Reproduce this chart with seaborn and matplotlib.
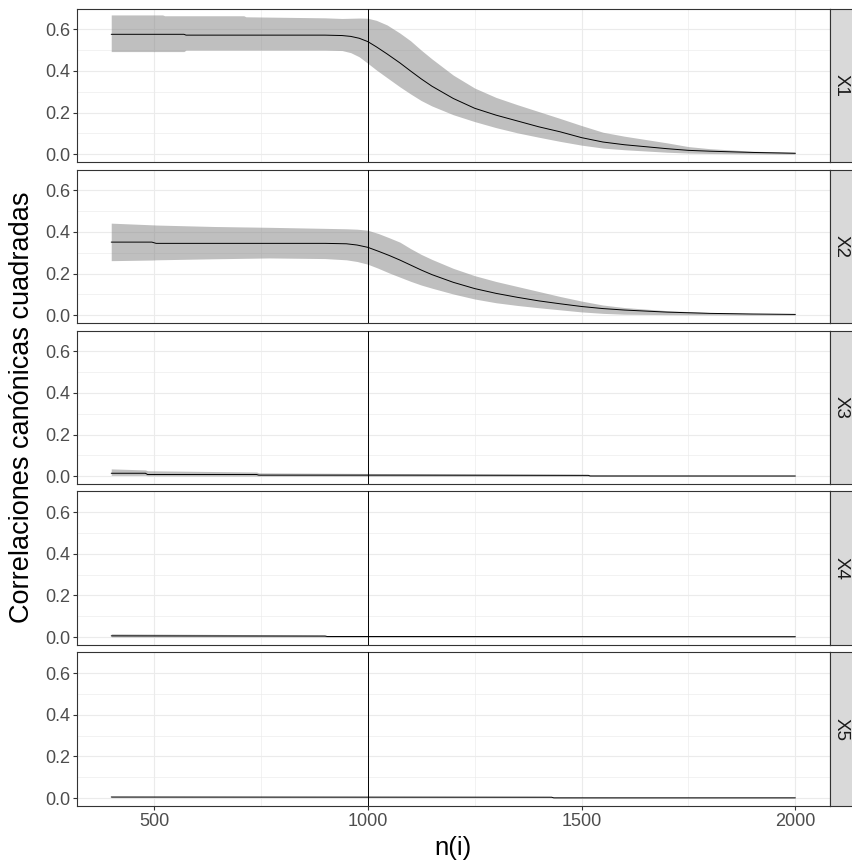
import pandas as pd
import matplotlib
matplotlib.use('Agg')
import matplotlib.pyplot as plt
from matplotlib import font_manager
from matplotlib.ticker import MultipleLocator
import seaborn as sns

# Facet labels
facets = ['X1', 'X2', 'X3', 'X4', 'X5']

# X1: n, mean, lower and upper band
n1 = [400, 520, 525, 570, 575, 710, 715, 900, 940, 960, 980, 1000, 1020, 1045, 1075, 1100,
      1125, 1150, 1200, 1250, 1300, 1350, 1400, 1450, 1500, 1550, 1600, 1700, 1750, 1800, 1900, 2000]
mean1 = [0.576, 0.576, 0.576, 0.576, 0.572, 0.572, 0.572, 0.572, 0.570, 0.566, 0.557, 0.541, 0.516,
         0.482, 0.439, 0.400, 0.362, 0.327, 0.268, 0.221, 0.188, 0.160, 0.132, 0.108, 0.080, 0.059,
         0.046, 0.027, 0.019, 0.015, 0.009, 0.005]
high1 = [0.669, 0.669, 0.665, 0.665, 0.665, 0.665, 0.660, 0.655, 0.652, 0.653, 0.654, 0.653, 0.643,
         0.621, 0.582, 0.545, 0.500, 0.458, 0.380, 0.318, 0.273, 0.238, 0.205, 0.172, 0.138, 0.106,
         0.087, 0.055, 0.037, 0.027, 0.015, 0.010]
low1 = [0.493, 0.493, 0.493, 0.493, 0.500, 0.500, 0.500, 0.500, 0.498, 0.488, 0.468, 0.437, 0.405,
        0.368, 0.324, 0.290, 0.258, 0.232, 0.190, 0.157, 0.128, 0.103, 0.082, 0.062, 0.044, 0.030,
        0.022, 0.010, 0.006, 0.004, 0.002, 0.001]

# X2
n2 = [400, 495, 505, 640, 770, 900, 950, 975, 1000, 1025, 1050, 1075, 1100, 1125, 1150, 1200,
      1250, 1300, 1350, 1400, 1450, 1500, 1550, 1600, 1700, 1800, 1900, 2000]
mean2 = [0.351, 0.351, 0.345, 0.345, 0.345, 0.345, 0.343, 0.337, 0.326, 0.307, 0.287, 0.265, 0.241,
         0.217, 0.195, 0.158, 0.128, 0.105, 0.086, 0.069, 0.055, 0.042, 0.032, 0.025, 0.015, 0.009,
         0.006, 0.004]
high2 = [0.442, 0.434, 0.433, 0.426, 0.422, 0.417, 0.415, 0.413, 0.408, 0.392, 0.372, 0.351, 0.320,
         0.292, 0.268, 0.225, 0.190, 0.162, 0.138, 0.114, 0.090, 0.068, 0.049, 0.037, 0.022, 0.013,
         0.008, 0.006]
low2 = [0.262, 0.265, 0.266, 0.271, 0.275, 0.272, 0.266, 0.258, 0.245, 0.225, 0.203, 0.183, 0.163,
        0.145, 0.130, 0.102, 0.078, 0.060, 0.047, 0.036, 0.026, 0.016, 0.009, 0.005, 0.003, 0.002,
        0.001, 0.001]

# X3
n3 = [400, 480, 485, 740, 745, 1100, 1516, 1520, 2000]
mean3 = [0.014, 0.014, 0.008, 0.008, 0.005, 0.005, 0.004, 0.001, 0.001]
high3 = [0.035, 0.030, 0.026, 0.020, 0.016, 0.012, 0.008, 0.005, 0.003]
low3 = [0.004, 0.004, 0.002, 0.001, 0.001, 0.000, 0.000, 0.000, 0.000]

# X4
n4 = [400, 900, 905, 2000]
mean4 = [0.006, 0.005, 0.003, 0.002]
high4 = [0.016, 0.010, 0.007, 0.004]
low4 = [0.001, 0.001, 0.000, 0.000]

# X5
n5 = [400, 1430, 1435, 2000]
mean5 = [0.005, 0.004, 0.001, 0.001]
high5 = [0.007, 0.006, 0.003, 0.002]
low5 = [0.002, 0.002, 0.000, 0.000]

cut_n = 1000

series = [(n1, mean1, low1, high1), (n2, mean2, low2, high2), (n3, mean3, low3, high3),
          (n4, mean4, low4, high4), (n5, mean5, low5, high5)]

frames = []
for lab, (n, m, lo, hi) in zip(facets, series):
    frames.append(pd.DataFrame({'n': n, 'mean': m, 'low': lo, 'high': hi, 'comp': lab}))
data = pd.concat(frames, ignore_index=True)

# Fonts
names = {f.name for f in font_manager.fontManager.ttflist}
narrow = 'Liberation Sans Narrow' if 'Liberation Sans Narrow' in names else 'Liberation Sans'
sns.set_style('white')
plt.rcParams['font.family'] = [narrow, 'DejaVu Sans']

fig, axes = plt.subplots(5, 1, figsize=(8.53, 8.67), dpi=100, sharex=True, sharey=True)
plt.subplots_adjust(left=0.0903, right=0.9725, top=0.990, bottom=0.0704, hspace=0.048)

for i, (ax, lab) in enumerate(zip(axes, facets)):
    d = data[data['comp'] == lab]
    ax.set_facecolor('white')
    ax.fill_between(d['n'], d['low'], d['high'], color='grey', alpha=0.5, lw=0, zorder=2)
    sns.lineplot(data=d, x='n', y='mean', ax=ax, color='black', lw=0.7,
                 estimator=None, sort=False, zorder=3)
    ax.axvline(cut_n, color='black', lw=0.7, zorder=4)

    ax.set_xlim(320, 2080)
    ax.set_ylim(-0.038, 0.699)
    ax.xaxis.set_major_locator(MultipleLocator(500))
    ax.xaxis.set_minor_locator(MultipleLocator(250))
    ax.yaxis.set_major_locator(MultipleLocator(0.2))
    ax.yaxis.set_minor_locator(MultipleLocator(0.1))
    ax.set_yticks([0.0, 0.2, 0.4, 0.6])
    ax.set_yticklabels(['0.0', '0.2', '0.4', '0.6'])
    ax.grid(which='major', color='#EBEBEB', lw=0.8, zorder=0)
    ax.grid(which='minor', color='#EBEBEB', lw=0.45, zorder=0)
    ax.set_axisbelow(True)
    for sp in ax.spines.values():
        sp.set_visible(True)
        sp.set_color('#333333')
        sp.set_linewidth(0.8)
    ax.tick_params(which='minor', length=0)
    ax.tick_params(axis='y', which='major', length=3, width=0.8, color='#333333',
                   labelcolor='#4D4D4D', labelsize=13, pad=2, left=True)
    if i < 4:
        ax.tick_params(axis='x', which='major', length=0, labelbottom=False)
    else:
        ax.tick_params(axis='x', which='major', length=3, width=0.8, color='#333333',
                       labelcolor='#4D4D4D', labelsize=13, pad=2, bottom=True)
    ax.set_xlabel('')
    ax.set_ylabel('')

    # facet strip on the right
    pos = ax.get_position()
    sax = fig.add_axes([pos.x1, pos.y0, 1.0 - pos.x1 + 0.01, pos.height])
    sax.set_facecolor('#D9D9D9')
    sax.set_xticks([])
    sax.set_yticks([])
    for sp in sax.spines.values():
        sp.set_color('#333333')
        sp.set_linewidth(0.8)
    sax.text(0.5 * (1.0 - pos.x1) / (1.0 - pos.x1 + 0.01), 0.5, lab, rotation=270,
             ha='center', va='center', color='#1A1A1A', fontsize=13.5, transform=sax.transAxes)

fig.text(0.0258, 0.5306, 'Correlaciones canónicas cuadradas', rotation=90, ha='center',
         va='center', fontsize=19.5, family=['Liberation Sans', 'DejaVu Sans'], color='black')
fig.text(0.531, 0.0219, 'n(i)', ha='center', va='center', fontsize=18.5, color='black')

fig.savefig('out.png', dpi=100)
